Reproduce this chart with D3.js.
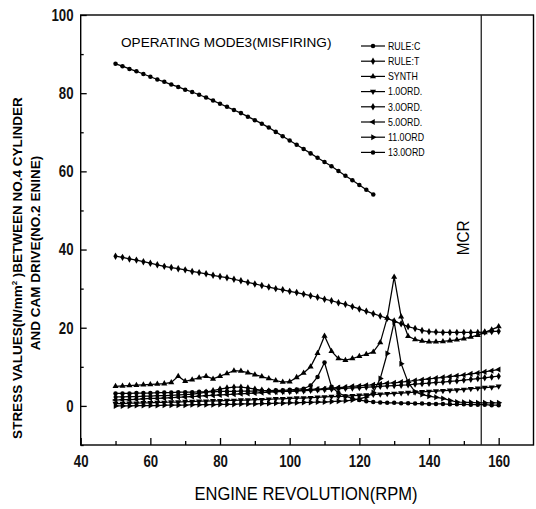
<!DOCTYPE html>
<html>
<head>
<meta charset="utf-8">
<script src="https://cdn.jsdelivr.net/npm/d3@7"></script>
<style>
  body { margin: 0; background: #fff; }
  svg { display: block; }
  text { font-family: "Liberation Sans", Arial, sans-serif; fill: #000; }
</style>
</head>
<body>
<script>
(function() {
  'use strict';

  // engine speed (rpm) for every series
  var rpm = [50,52,54,56,58,60,62,64,66,68,70,72,74,76,78,80,82,84,86,88,90,92,94,96,98,
             100,102,104,106,108,110,112,114,116,118,120,122,124,126,128,130,132,134,136,138,
             140,142,144,146,148,150,152,154,156,158,160];

  // RULE:C only goes up to 124 rpm
  var ruleC = [87.5,86.9,86.2,85.6,84.9,84.2,83.5,82.9,82.2,81.6,80.9,80.3,79.6,78.9,78.1,77.3,
               76.5,75.7,74.9,74.0,73.1,72.2,71.2,70.1,69.0,67.9,66.8,65.7,64.6,63.5,62.4,61.3,
               60.1,58.9,57.7,56.5,55.3,54.1];
  var ruleT = [38.3,38.0,37.6,37.3,36.9,36.5,36.1,35.7,35.4,35.1,34.8,34.4,34.1,33.8,33.4,33.1,
               32.8,32.4,32.0,31.6,31.2,30.8,30.4,30.0,29.7,29.3,29.0,28.6,28.2,27.8,27.3,26.9,
               26.4,26.0,25.4,24.8,24.2,23.6,23.0,22.4,21.7,21.0,20.3,19.8,19.3,19.0,18.9,18.8,
               18.8,18.8,18.8,18.8,18.8,18.9,19.0,19.1];
  var synth = [5.0,5.1,5.2,5.3,5.4,5.5,5.6,5.7,6.0,7.6,6.3,6.7,7.2,7.6,6.9,7.6,8.3,9.0,8.9,8.5,
               8.0,7.5,7.0,6.5,6.1,6.2,7.3,8.4,10.0,13.5,17.9,14.0,12.1,11.7,12.1,12.7,13.2,13.8,
               16.2,22.5,33.0,22.8,17.8,17.0,16.6,16.4,16.4,16.5,16.7,16.9,17.2,17.6,18.1,18.8,
               19.5,20.3];
  var ord1 = [0.6,0.6,0.7,0.7,0.8,0.8,0.9,0.9,1.0,1.0,1.1,1.1,1.2,1.2,1.3,1.3,1.4,1.4,1.5,1.5,
              1.6,1.6,1.7,1.8,1.8,1.9,2.0,2.0,2.1,2.2,2.3,2.4,2.4,2.5,2.6,2.7,2.8,2.9,3.0,3.1,
              3.2,3.3,3.4,3.5,3.6,3.7,3.8,3.9,4.0,4.1,4.2,4.4,4.5,4.7,4.8,5.0];
  var ord3 = [2.3,2.3,2.4,2.4,2.5,2.5,2.6,2.6,2.7,2.8,2.9,3.0,3.2,3.5,3.9,4.3,4.6,4.8,4.8,4.6,
              4.3,4.0,3.8,3.7,3.7,3.7,3.8,3.9,4.0,4.1,4.2,4.3,4.4,4.5,4.6,4.7,4.8,4.9,5.0,5.1,
              5.2,5.3,5.4,5.6,5.7,5.8,6.0,6.1,6.3,6.4,6.6,6.8,7.0,7.2,7.4,7.6];
  var ord5 = [1.5,1.6,1.6,1.7,1.8,1.9,1.9,2.0,2.1,2.2,2.3,2.4,2.5,2.6,2.7,2.8,2.9,3.0,3.1,3.2,
              3.3,3.4,3.5,3.6,3.7,3.8,3.9,4.1,4.2,4.3,4.4,4.6,4.7,4.8,5.0,5.1,5.3,5.4,5.6,5.8,
              5.9,6.1,6.3,6.5,6.7,6.9,7.1,7.3,7.5,7.7,7.9,8.2,8.4,8.7,9.0,9.3];
  var ord11 = [0.0,0.0,0.0,0.1,0.1,0.1,0.1,0.2,0.2,0.2,0.2,0.3,0.3,0.3,0.3,0.4,0.4,0.4,0.5,0.5,
               0.5,0.6,0.6,0.7,0.7,0.8,0.8,0.9,0.9,1.0,1.0,1.1,1.2,1.3,1.5,1.8,2.3,3.4,7.0,13.4,
               21.5,10.8,6.0,3.6,2.9,2.5,2.2,1.9,1.4,1.0,0.9,0.9,0.8,0.8,0.8,0.8];
  var ord13 = [3.2,3.2,3.2,3.3,3.3,3.3,3.4,3.4,3.4,3.5,3.5,3.5,3.6,3.6,3.6,3.7,3.7,3.7,3.8,3.8,
               3.8,3.9,3.9,4.0,4.0,4.1,4.2,4.4,5.2,7.4,11.1,4.9,3.3,2.5,1.9,1.5,1.2,1.0,0.9,0.8,
               0.8,0.7,0.7,0.6,0.6,0.5,0.5,0.5,0.4,0.4,0.4,0.3,0.3,0.3,0.2,0.2];

  var seriesNames = ["RULE:C", "RULE:T", "SYNTH", "1.0ORD.", "3.0ORD.", "5.0ORD.", "11.0ORD", "13.0ORD"];
  var seriesValues = [ruleC, ruleT, synth, ord1, ord3, ord5, ord11, ord13];

  var xTicks = [40, 60, 80, 100, 120, 140, 160];
  var xMinor = [50, 70, 90, 110, 130, 150];
  var yTicks = [0, 20, 40, 60, 80, 100];
  var yMinor = [-10, 10, 30, 50, 70, 90];
  var mcrRpm = 155;

  // marker shape / rotation per series
  var markers = [
    [d3.symbolCircle, 0], [d3.symbolDiamond, 0], [d3.symbolTriangle, 0], [d3.symbolTriangle, 180],
    [d3.symbolDiamond, 0], [d3.symbolTriangle, -90], [d3.symbolTriangle, 90], [d3.symbolCircle, 0]
  ];

  var W = 536, H = 509;
  var left = 80.7, right = 533.5, top = 15, bottom = 445;

  var x = d3.scaleLinear().domain([40, 170]).range([left, right]);
  var y = d3.scaleLinear().domain([-10, 100]).range([bottom, top]);

  var svg = d3.select("body")
    .append("svg")
      .attr("width", W)
      .attr("height", H);

  // axes, ticks point inward
  svg.append("g")
    .attr("transform", "translate(0," + bottom + ")")
    .call(d3.axisBottom(x).tickValues(xTicks).tickSize(-7).tickPadding(10));
  svg.append("g")
    .attr("transform", "translate(0," + bottom + ")")
    .call(d3.axisBottom(x).tickValues(xMinor).tickSize(-4).tickFormat(""));
  svg.append("g")
    .attr("transform", "translate(" + left + ",0)")
    .call(d3.axisLeft(y).tickValues(yTicks).tickSize(-6).tickPadding(9));
  svg.append("g")
    .attr("transform", "translate(" + left + ",0)")
    .call(d3.axisLeft(y).tickValues(yMinor).tickSize(-3).tickFormat(""));

  svg.selectAll(".domain").remove();
  svg.selectAll(".tick line").style("stroke", "#000").style("stroke-width", 1.3);
  // narrow look of the printed labels
  svg.selectAll(".tick text")
    .attr("transform", "scale(0.8,1)")
    .style("font-family", "'Liberation Sans', Arial, sans-serif")
    .style("font-size", "16.5px")
    .style("font-weight", "bold")
    .style("fill", "#111");

  svg.append("rect")
    .attr("x", left)
    .attr("y", top)
    .attr("width", right - left)
    .attr("height", bottom - top)
    .style("fill", "none")
    .style("stroke", "#000")
    .style("stroke-width", 1.4);

  // MCR line
  svg.append("line")
    .attr("x1", x(mcrRpm)).attr("x2", x(mcrRpm))
    .attr("y1", top).attr("y2", bottom)
    .style("stroke", "#222")
    .style("stroke-width", 1.3);
  svg.append("text")
    .attr("transform", "translate(" + (x(mcrRpm) - 12) + "," + y(43) + ") rotate(-90) scale(0.9,1)")
    .attr("text-anchor", "middle")
    .style("font-size", "17px")
    .text("MCR");

  var line = d3.line()
    .x(function(d) { return x(d[0]); })
    .y(function(d) { return y(d[1]); });

  seriesValues.forEach(function(vals, i) {
    var pts = vals.map(function(v, j) { return [rpm[j], v]; });
    var g = svg.append("g");
    g.append("path")
      .attr("d", line(pts))
      .style("fill", "none")
      .style("stroke", "#000")
      .style("stroke-width", 1.25);
    g.selectAll("path.pt")
      .data(pts)
      .enter().append("path")
        .attr("class", "pt")
        .attr("d", d3.symbol().type(markers[i][0]).size(16))
        .attr("transform", function(d) {
          return "translate(" + x(d[0]) + "," + y(d[1]) + ") rotate(" + markers[i][1] + ")";
        })
        .style("fill", "#000");
  });

  // legend
  var legend = svg.append("g").attr("transform", "translate(361,46)");
  seriesNames.forEach(function(name, i) {
    var row = legend.append("g").attr("transform", "translate(0," + (i * 15.2) + ")");
    row.append("line")
      .attr("x1", 0).attr("x2", 24)
      .attr("y1", 0).attr("y2", 0)
      .style("stroke", "#000")
      .style("stroke-width", 1.2);
    row.append("path")
      .attr("d", d3.symbol().type(markers[i][0]).size(16))
      .attr("transform", "translate(12,0) rotate(" + markers[i][1] + ")")
      .style("fill", "#000");
    row.append("text")
      .attr("transform", "translate(27,3.8) scale(0.8,1)")
      .style("font-size", "11px")
      .text(name);
  });

  // title
  svg.append("text")
    .attr("x", 121)
    .attr("y", 47)
    .style("font-size", "13.6px")
    .text("OPERATING MODE3(MISFIRING)");

  // axis titles
  svg.append("text")
    .attr("transform", "translate(306,500) scale(0.87,1)")
    .attr("text-anchor", "middle")
    .style("font-size", "19px")
    .text("ENGINE REVOLUTION(RPM)");

  var yTitle = svg.append("text")
    .attr("transform", "translate(22,268) rotate(-90)")
    .attr("text-anchor", "middle")
    .style("font-size", "13.5px")
    .style("font-weight", "bold");
  yTitle.append("tspan").text("STRESS VALUES(N/mm");
  yTitle.append("tspan").attr("dy", -5).style("font-size", "8px").text("2");
  yTitle.append("tspan").attr("dy", 5).text(" )BETWEEN NO.4 CYLINDER");

  svg.append("text")
    .attr("transform", "translate(40,253) rotate(-90)")
    .attr("text-anchor", "middle")
    .style("font-size", "13.5px")
    .style("font-weight", "bold")
    .text("AND CAM DRIVE(NO.2 ENINE)");

})();
</script>
</body>
</html>
